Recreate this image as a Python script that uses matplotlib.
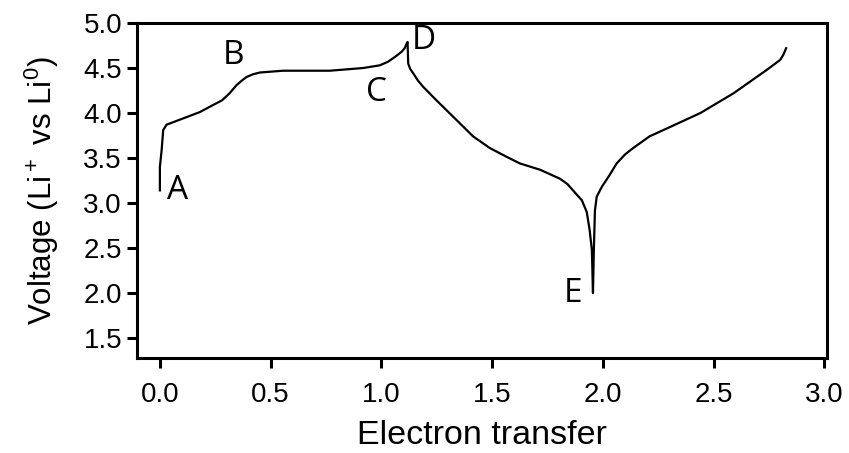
import matplotlib

matplotlib.use("Agg")
import matplotlib.pyplot as plt

# Charge branch A -> B -> C -> D
charge_x = [0.0, 0.0, 0.008, 0.015, 0.03, 0.105, 0.18, 0.241, 0.28, 0.315, 0.346, 0.37,
            0.391, 0.42, 0.451, 0.557, 0.632, 0.767, 0.918, 0.993, 1.03, 1.065, 1.091,
            1.105, 1.114, 1.118]
charge_v = [3.14, 3.40, 3.59, 3.81, 3.87, 3.94, 4.01, 4.09, 4.14, 4.22, 4.31, 4.36,
            4.40, 4.43, 4.45, 4.47, 4.47, 4.47, 4.50, 4.53, 4.57, 4.63, 4.68,
            4.72, 4.77, 4.79]

# Discharge branch D -> E
discharge_x = [1.118, 1.121, 1.13, 1.144, 1.165, 1.189, 1.249, 1.34, 1.414, 1.49,
               1.56, 1.625, 1.716, 1.806, 1.84, 1.865, 1.905, 1.927, 1.94, 1.95, 1.955]
discharge_v = [4.79, 4.55, 4.49, 4.44, 4.36, 4.29, 4.14, 3.92, 3.74, 3.61,
               3.52, 3.44, 3.37, 3.27, 3.21, 3.14, 3.03, 2.90, 2.70, 2.48, 2.00]

# Recharge branch E -> end
recharge_x = [1.955, 1.959, 1.964, 1.972, 1.995, 2.03, 2.062, 2.10, 2.136, 2.21, 2.29,
              2.44, 2.59, 2.74, 2.80, 2.815, 2.827]
recharge_v = [2.00, 2.48, 2.92, 3.07, 3.18, 3.31, 3.44, 3.54, 3.61, 3.74, 3.83,
              4.00, 4.22, 4.48, 4.59, 4.65, 4.72]

point_labels = ["A", "B", "C", "D", "E"]
label_x = [0.081, 0.334, 0.98, 1.19, 1.865]
label_v = [3.14, 4.64, 4.23, 4.81, 1.99]

x_ticks = [0.0, 0.5, 1.0, 1.5, 2.0, 2.5, 3.0]
y_ticks = [1.5, 2.0, 2.5, 3.0, 3.5, 4.0, 4.5, 5.0]

plt.rcParams["font.family"] = ["Liberation Sans", "DejaVu Sans"]
plt.rcParams["mathtext.default"] = "regular"

fig = plt.figure(figsize=(8.49, 4.53), dpi=100)
ax = fig.add_axes([0.1617, 0.2097, 0.812, 0.7395])

x_all = charge_x + discharge_x[1:] + recharge_x[1:]
v_all = charge_v + discharge_v[1:] + recharge_v[1:]
ax.plot(x_all, v_all, color="black", lw=1.6)

for lab, lx, lv in zip(point_labels, label_x, label_v):
    ax.text(lx, lv, lab, fontsize=24, family=["Open Sans", "DejaVu Sans"],
            ha="center", va="center")

ax.set_xlim(-0.102, 3.01)
ax.set_ylim(1.278, 5.0)
ax.set_xticks(x_ticks)
ax.set_yticks(y_ticks)
ax.set_xticklabels([f"{t:.1f}" for t in x_ticks])
ax.set_yticklabels([f"{t:.1f}" for t in y_ticks])
ax.tick_params(labelsize=20, length=7, width=2.2, direction="out",
               top=False, right=False)
ax.tick_params(axis="x", pad=10)
ax.tick_params(axis="y", pad=4)
for sp in ax.spines.values():
    sp.set_linewidth(2.2)

ax.set_xlabel("Electron transfer", fontsize=24.5, labelpad=9)
ax.set_ylabel("Voltage (Li$^+$ vs Li$^0$)", fontsize=22.5, labelpad=16)

fig.savefig("out.png", dpi=100)
